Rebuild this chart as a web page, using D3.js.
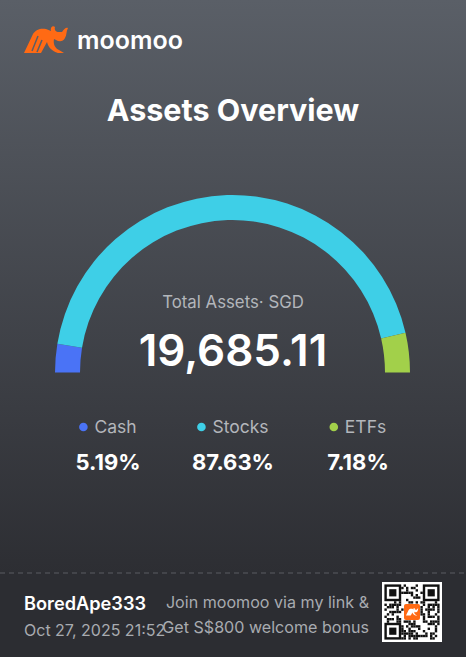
<!DOCTYPE html>
<html><head><meta charset="utf-8">
<script src="https://cdn.jsdelivr.net/npm/d3@7"></script>
<style>html,body{margin:0;padding:0;background:#2c2d32;}svg{display:block;}</style>
</head><body>
<script>
const categories = ["Cash", "Stocks", "ETFs"];
const shares = [5.19, 87.63, 7.18];
const colors = ["#4a73f6", "#3ecfe7", "#a2d04a"];
const totalLabel = "Total Assets· SGD";
const totalValue = 19685.11;
const title = "Assets Overview";
const userName = "BoredApe333";
const stamp = "Oct 27, 2025 21:52";
const promo = ["Join moomoo via my link &", "Get S$800 welcome bonus"];

const W = 466, H = 657;
const svg = d3.select("body").append("svg").attr("width", W).attr("height", H);
const defs = svg.append("defs");
const g = defs.append("linearGradient").attr("id","bg").attr("x1",0).attr("y1",0).attr("x2",0).attr("y2",1);
g.append("stop").attr("offset","0%").attr("stop-color","#5a5f67");
g.append("stop").attr("offset","100%").attr("stop-color","#2d2e33");
svg.append("rect").attr("width",W).attr("height",573).attr("fill","url(#bg)");
svg.append("rect").attr("y",573).attr("width",W).attr("height",H-573).attr("fill","#2c2d32");
svg.append("line").attr("x1",0).attr("x2",W).attr("y1",573).attr("y2",573)
  .attr("stroke","#5b5d63").attr("stroke-width",1.2).attr("stroke-dasharray","5,4");

const font = "Inter, 'Noto Sans', sans-serif";

// logo
const logo = svg.append("g").attr("transform","translate(24,26)");
logo.append("path").attr("fill","#ff6a14")
  .attr("d","M0,27 L9,8 C12,3 17,2 22,3 L27,5 C26,1 29,-1 31,1 C30,4 32,6 35,6 L38,6 C40,3 42,1 44,2 C42,5 43,9 41,12 C39,16 35,16 32,14 L30,13 C29,18 31,22 35,24 L40,27 L34,27 C28,25 24,21 23,16 L17,27 Z");
logo.append("path").attr("fill","none").attr("stroke","#5a5f67").attr("stroke-width",1.5)
  .attr("d","M8,25 L14,10 M13,26 L18,14");
svg.append("text").attr("x",77).attr("y",49).attr("fill","#fff").attr("font-family",font)
  .attr("font-size",25).attr("font-weight",600).text("moomoo");

svg.append("text").attr("x",233).attr("y",121).attr("text-anchor","middle").attr("fill","#fff")
  .attr("font-family",font).attr("font-size",30.5).attr("font-weight",700).text(title);

// gauge
const cx = 232.5, cy = 372.5, rOut = 177.5, rIn = 152.5;
const pie = d3.pie().sort(null).value(d=>d).startAngle(-Math.PI/2).endAngle(Math.PI/2);
const arc = d3.arc().innerRadius(rIn).outerRadius(rOut);
const gauge = svg.append("g").attr("transform",`translate(${cx},${cy})`);
gauge.selectAll("path").data(pie(shares)).join("path")
  .attr("d", arc).attr("fill",(d,i)=>colors[i]);

svg.append("text").attr("x",233).attr("y",308).attr("text-anchor","middle").attr("fill","#b3b6bb")
  .attr("font-family",font).attr("font-size",16.8).text(totalLabel);
svg.append("text").attr("x",233).attr("y",366).attr("text-anchor","middle").attr("fill","#fff")
  .attr("font-family",font).attr("font-size",44).attr("font-weight",600)
  .text(d3.format(",.2f")(totalValue));

// legend
const lx = d3.scalePoint().domain(categories).range([108, 358]);
const leg = svg.selectAll("g.leg").data(categories).join("g").attr("class","leg")
  .attr("transform",d=>`translate(${lx(d)},0)`);
leg.each(function(d,i){
  const s = d3.select(this);
  const t = s.append("text").attr("y",433).attr("fill","#b3b6bb").attr("font-family",font)
    .attr("font-size",17.5).text(d);
  const w = t.node().getComputedTextLength();
  const total = 10 + 5 + w;
  t.attr("x", -total/2 + 15);
  s.append("circle").attr("cx",-total/2 + 4).attr("cy",427).attr("r",4.3).attr("fill",colors[i]);
  s.append("text").attr("y",470).attr("text-anchor","middle").attr("fill","#fff")
    .attr("font-family",font).attr("font-size",22).attr("font-weight",700)
    .text(d3.format(".2f")(shares[i])+"%");
});

// footer
svg.append("text").attr("x",24).attr("y",610).attr("fill","#fff").attr("font-family",font)
  .attr("font-size",18.2).attr("font-weight",600).text(userName);
svg.append("text").attr("x",24).attr("y",636).attr("fill","#a8abb0").attr("font-family",font)
  .attr("font-size",16).text(stamp);
promo.forEach((p,i)=>{
  svg.append("text").attr("x",369).attr("y",608+i*25).attr("text-anchor","end").attr("fill","#a8abb0")
    .attr("font-family",font).attr("font-size",16.1).text(p);
});

// QR decoration
const qx = 382, qy = 582, qs = 60, n = 25, m = qs/n;
const qr = svg.append("g");
qr.append("rect").attr("x",qx).attr("y",qy).attr("width",qs).attr("height",qs).attr("fill","#fff");
const isFinder = (r,c)=> (r<8&&c<8)||(r<8&&c>=n-8)||(r>=n-8&&c<8);
for(let r=1;r<n-1;r++)for(let c=1;c<n-1;c++){
  if(isFinder(r,c)) continue;
  if(r>=9&&r<=15&&c>=9&&c<=15) continue;
  const h = ((r*73856093) ^ (c*19349663)) >>> 0;
  if(h % 7 < 3) qr.append("rect").attr("x",qx+c*m).attr("y",qy+r*m).attr("width",m).attr("height",m).attr("fill","#111");
}
[[1,1],[1,n-8],[n-8,1]].forEach(([r,c])=>{
  qr.append("rect").attr("x",qx+c*m+m/2).attr("y",qy+r*m+m/2).attr("width",6*m).attr("height",6*m)
    .attr("fill","none").attr("stroke","#111").attr("stroke-width",m);
  qr.append("rect").attr("x",qx+(c+2)*m).attr("y",qy+(r+2)*m).attr("width",3*m).attr("height",3*m).attr("fill","#111");
});
qr.append("rect").attr("x",qx+qs/2-8).attr("y",qy+qs/2-8).attr("width",16).attr("height",16).attr("rx",2).attr("fill","#ff6a14");
qr.append("path").attr("fill","#fff").attr("transform",`translate(${qx+qs/2-6},${qy+qs/2-4}) scale(0.28)`)
  .attr("d","M0,27 L9,8 C12,3 17,2 22,3 L27,5 C26,1 29,-1 31,1 C30,4 32,6 35,6 L38,6 C40,3 42,1 44,2 C42,5 43,9 41,12 C39,16 35,16 32,14 L30,13 C29,18 31,22 35,24 L40,27 L34,27 C28,25 24,21 23,16 L17,27 Z");
</script>
</body></html>
